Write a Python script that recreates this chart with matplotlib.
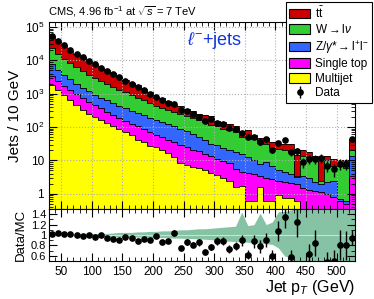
import numpy as np
import matplotlib
matplotlib.use("Agg")
import matplotlib.pyplot as plt
from matplotlib.patches import Patch
from matplotlib.ticker import MultipleLocator, LogLocator, NullFormatter, FixedLocator

plt.rcParams["font.family"] = ["Liberation Sans", "DejaVu Sans"]
plt.rcParams["mathtext.fontset"] = "custom"
plt.rcParams["mathtext.rm"] = "Liberation Sans"
plt.rcParams["mathtext.it"] = "Liberation Sans:italic"

# jet pT bins, 10 GeV wide
edges = np.arange(30, 531, 10)
centers = edges[:-1] + 5

# upper edge of each stacked layer
top_multijet = [1860, 1260, 891, 631, 447, 316, 251, 200, 158, 129,
                105, 85, 69, 56, 42, 35, 28, 25, 20, 16.6,
                13, 8.5, 7.5, 6.5, 5.8, 5.0, 4.3, 3.6, 2.9, 2.5,
                1.6, 1.7, 0.6, 0.6, 1.6, 0.6, 0.6, 0.9, 0.75, 0.75,
                0.6, 0, 0, 0, 0, 0, 0, 0, 0, 0]
top_singletop = [3310, 2400, 1740, 1290, 977, 741, 575, 457, 363, 288,
                 234, 191, 155, 126, 105, 85, 71, 59, 50, 42,
                 35, 30, 25, 21, 18.6, 15.8, 13.2, 11.2, 9.5, 8.3,
                 5.5, 4.6, 4.2, 3.9, 3.4, 3.0, 2.7, 2.4, 2.2, 2.1,
                 1.9, 1.5, 1.3, 1.2, 1.1, 1.0, 0.8, 0.6, 0.5, 3.5]
top_zjets = [7760, 5250, 3720, 2690, 2000, 1510, 1170, 933, 759, 631,
             525, 437, 363, 302, 263, 224, 191, 162, 141, 120,
             105, 89, 76, 63, 50, 42, 32, 30, 24, 20,
             18, 16, 13, 10, 8, 9, 7, 5, 4.5, 4,
             3.5, 3.3, 3.0, 2.2, 2.0, 2.2, 2.5, 0.7, 0.6, 13.8]
top_wjets = [22900, 15800, 11200, 8300, 6300, 4680, 3550, 2880, 2340, 1910,
             1580, 1320, 1120, 912, 759, 631, 525, 437, 380, 316,
             282, 251, 209, 182, 158, 138, 115, 105, 89, 79,
             71, 52, 50, 43, 34, 32, 24, 22, 20, 18,
             3.2, 14, 13, 10, 2.5, 10, 7, 8, 6, 20]
top_ttbar = [52500, 37200, 28200, 19500, 15500, 12900, 9550, 7940, 6030, 5010,
             4070, 3390, 2510, 2090, 1820, 1350, 1100, 813, 741, 589,
             457, 427, 339, 302, 240, 229, 219, 148, 138, 126,
             107, 76, 79, 58, 47, 47, 36, 31, 31, 32,
             15, 20, 18, 13.5, 12, 14, 11, 10, 10, 45]

data = [54000, 39000, 29000, 20000, 15500, 12600, 9500, 7600, 6000, 4700,
        3800, 3100, 2400, 2000, 1580, 1260, 1000, 794, 631, 525,
        479, 316, 295, 245, 204, 155, 170, 132, 123, 93,
        85, 68, 50, 50, 36, 43, 21, 33, 42, 18,
        19, 9, 11, 11, 12, 7, 5.5, 8, 8, 43]

# data / MC (nan = off scale)
ratio = [1.013, 1.04, 1.027, 1.013, 1.006, 0.979, 0.993, 0.959, 0.993, 0.938,
         0.925, 0.911, 0.959, 0.952, 0.877, 0.932, 0.904, 0.986, 0.857, 0.891,
         1.047, 0.741, 0.864, 0.816, 0.857, 0.680, 0.768, 0.891, 0.891, 0.734,
         0.789, 0.897, 0.625, 0.877, 0.782, 0.904, 0.591, 1.074, 1.346, 0.571,
         1.244, np.nan, 0.632, 0.843, np.nan, 0.49, 0.50, 0.81, 0.80, 0.952]

# MC uncertainty band in the ratio panel
band_hi = [1.02, 1.02, 1.02, 1.02, 1.02, 1.03, 1.03, 1.03, 1.03, 1.03,
           1.04, 1.05, 1.05, 1.05, 1.06, 1.06, 1.07, 1.07, 1.08, 1.08,
           1.09, 1.10, 1.10, 1.11, 1.12, 1.12, 1.13, 1.14, 1.15, 1.16,
           1.17, 1.44, 1.18, 1.20, 1.42, 1.20, 1.25, 1.45, 1.45, 1.48,
           1.6, 1.6, 1.6, 1.6, 1.6, 1.6, 1.6, 1.6, 1.6, 1.6]
band_lo = [0.99, 0.99, 0.99, 0.985, 0.985, 0.98, 0.98, 0.98, 0.975, 0.975,
           0.97, 0.97, 0.965, 0.965, 0.96, 0.96, 0.955, 0.95, 0.95, 0.945,
           0.94, 0.94, 0.935, 0.93, 0.925, 0.92, 0.91, 0.90, 0.89, 0.88,
           0.875, 0.87, 0.86, 0.85, 0.84, 0.83, 0.82, 0.75, 0.6, 0.55,
           0.4, 0.4, 0.4, 0.4, 0.4, 0.4, 0.4, 0.4, 0.4, 0.4]

layers = [("Multijet", top_multijet, "#ffff00"),
          ("Single top", top_singletop, "#ff00ff"),
          ("Z/$\\gamma$*$\\rightarrow$l$^{+}$l$^{-}$", top_zjets, "#3366ff"),
          ("W$\\rightarrow$l$\\nu$", top_wjets, "#33cc33"),
          ("t$\\bar{\\rm t}$", top_ttbar, "#cc0000")]

fig = plt.figure(figsize=(3.74, 2.99), dpi=100)
ax = fig.add_axes([0.131, 0.301, 0.818, 0.625])
rax = fig.add_axes([0.131, 0.127, 0.818, 0.174], sharex=ax)

ymin = 0.35
lower = np.full(len(centers), 1e-3)
for name, top, col in layers:
    top = np.maximum(np.array(top, dtype=float), 1e-3)
    ax.fill_between(edges, np.append(lower, lower[-1]), np.append(top, top[-1]),
                    step="post", color=col, lw=0)
    ax.step(edges, np.append(top, top[-1]), where="post", color="black", lw=0.6)
    lower = top

data = np.array(data, dtype=float)
ax.errorbar(centers, data, yerr=np.sqrt(data), fmt="o", color="black",
            ms=3.8, elinewidth=1.0, capsize=0, zorder=5)

ax.set_yscale("log")
ax.set_xlim(30, 530)
ax.set_ylim(ymin, 1.4e5)
ax.grid(True, which="major", color="#b0b0b0", ls=":", lw=0.8)
ax.set_axisbelow(False)
ax.set_yticks([1, 10, 100, 1e3, 1e4, 1e5])
ax.set_yticklabels(["1", "10", "10$^{2}$", "10$^{3}$", "10$^{4}$", "10$^{5}$"])
ax.yaxis.set_minor_locator(LogLocator(base=10, subs=np.arange(2, 10), numticks=20))
ax.yaxis.set_minor_formatter(NullFormatter())
ax.xaxis.set_major_locator(MultipleLocator(50))
ax.xaxis.set_minor_locator(MultipleLocator(10))
ax.tick_params(axis="both", which="both", direction="in", top=True, right=True, labelsize=8.5)
ax.tick_params(which="major", length=6)
ax.tick_params(which="minor", length=3)
ax.tick_params(axis="x", labelbottom=False)
ax.set_ylabel("Jets / 10 GeV", fontsize=11, labelpad=2)

# ratio panel
ratio = np.array(ratio, dtype=float)
band_x = np.concatenate([[30], centers, [530]])
rax.fill_between(band_x, np.concatenate([[band_lo[0]], band_lo, [band_lo[-1]]]),
                 np.concatenate([[band_hi[0]], band_hi, [band_hi[-1]]]),
                 color="#86c2a4", lw=0)
rax.axhline(1.0, color="#c9e3d6", lw=0.8)
rax.errorbar(centers, ratio, yerr=ratio / np.sqrt(data), fmt="o", color="black",
             ms=3.8, elinewidth=1.0, capsize=0, zorder=5)
rax.set_ylim(0.5, 1.5)
rax.yaxis.set_major_locator(FixedLocator([0.6, 0.8, 1.0, 1.2, 1.4]))
rax.set_yticklabels(["0.6", "0.8", "1", "1.2", "1.4"])
rax.yaxis.set_minor_locator(MultipleLocator(0.1))
rax.tick_params(axis="both", which="both", direction="in", top=True, right=True, labelsize=8.5)
rax.tick_params(which="major", length=6)
rax.tick_params(which="minor", length=3)
rax.tick_params(axis="y", labelsize=8, pad=2)
rax.set_ylabel("Data/MC", fontsize=9.5, labelpad=3)
rax.set_xlabel("Jet p$_{T}$ (GeV)", fontsize=11.5, loc="right", labelpad=0)

fig.text(0.128, 0.96, "CMS, 4.96 fb$^{-1}$ at $\\sqrt{s}$ = 7 TeV", fontsize=8, va="center")
fig.text(0.50, 0.865, "$\\ell^{-}$+jets", fontsize=13, color="#1133dd", va="center")

handles = [Patch(facecolor=c, edgecolor="black", lw=0.8) for _, _, c in layers[::-1]]
labels = [n for n, _, _ in layers[::-1]]
dh = ax.errorbar([], [], yerr=[], fmt="o", color="black", ms=3.8, elinewidth=1.0)
handles.append(dh)
labels.append("Data")
leg = fig.legend(handles, labels, loc="upper right", bbox_to_anchor=(1.0, 1.0),
                 fontsize=8.5, frameon=True, fancybox=False, edgecolor="black",
                 framealpha=1, borderpad=0.3, labelspacing=0.22, handlelength=1.8,
                 handleheight=0.9, handletextpad=0.4, borderaxespad=0.15)
leg.get_frame().set_linewidth(0.8)

fig.savefig("out.png", dpi=100)
